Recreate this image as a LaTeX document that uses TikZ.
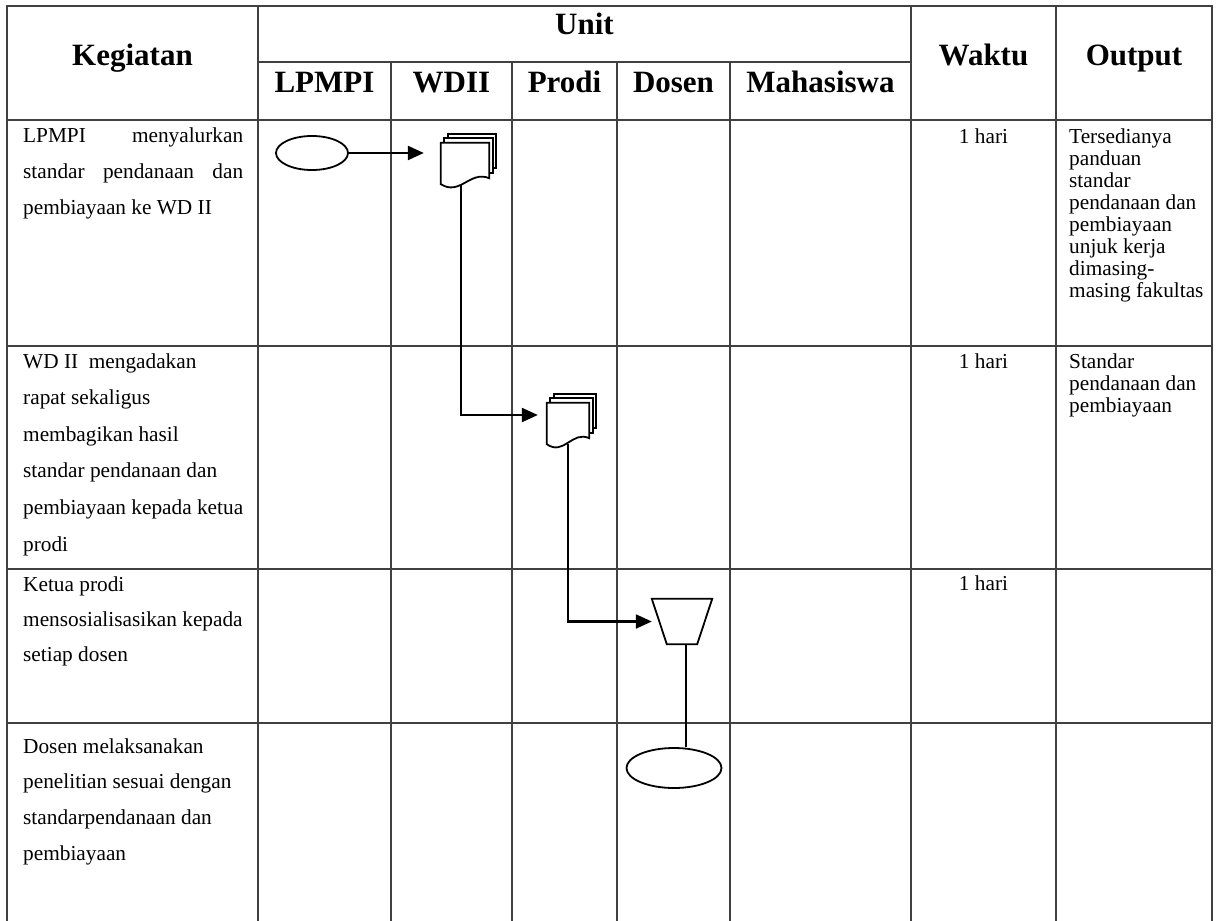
\documentclass[tikz,border=0pt]{standalone}
\usepackage{fontspec}
\setmainfont{Liberation Serif}
\usetikzlibrary{calc,arrows.meta,shapes.geometric}
\tikzset{
  tablerule/.style={draw=black!75, line width=1.3pt},
  flow/.style={draw=black, line width=2.3pt},
  arr/.style={flow, -{Triangle[length=16pt,width=14pt]}},
  hd/.style={font=\fontsize{31}{36}\bfseries\selectfont, inner sep=0pt, anchor=base},
  tx/.style={font=\fontsize{21.3}{26}\selectfont, inner sep=0pt, anchor=base west},
  txc/.style={tx, anchor=base},
  hid/.style={draw=none, inner sep=0pt, rectangle},
}
\newcommand{\multidocshape}[1]{%
  \draw[flow, line width=1.8pt, fill=white] ($(#1.north west)+(7,-9)$) rectangle ($(#1.south east)+(7,-16)$);
  \draw[flow, line width=1.8pt, fill=white] ($(#1.north west)+(3.5,-4.5)$) rectangle ($(#1.south east)+(3.5,-11)$);
  \draw[flow, line width=1.8pt, fill=white] (#1.north west) -- (#1.north east) -- ($(#1.south east)+(0,-6)$)
    .. controls ($(#1.south west)!0.6!(#1.south east)+(0,-14)$) and ($(#1.south west)!0.4!(#1.south east)+(0,12)$) .. (#1.south west) -- cycle;
}
\begin{document}
\begin{tikzpicture}[x=1pt,y=-1pt]
\useasboundingbox (0,0) rectangle (1221,921);
\fill[white] (0,0) rectangle (1221,921);

% ---- table rules
\draw[tablerule] (7,921) -- (7,6) -- (1212,6) -- (1212,921);
\draw[tablerule] (258,6) -- (258,921);
\draw[tablerule] (1056,6) -- (1056,921);
\draw[tablerule] (911,6) -- (911,921);
\draw[tablerule] (258,62) -- (911,62);
\foreach \cx in {391,512,617,730} \draw[tablerule] (\cx,62) -- (\cx,921);
\foreach \ry in {120,346,569,723} \draw[tablerule] (7,\ry) -- (1212,\ry);

% ---- header
\node[hd] (hkeg) at (132.5,65) {Kegiatan};
\node[hd] (hunit) at (584.5,34) {Unit};
\node[hd] (hlp) at (324.5,92) {LPMPI};
\node[hd] (hwd) at (451.5,92) {WDII};
\node[hd] (hpr) at (564.5,92) {Prodi};
\node[hd] (hdo) at (673.5,92) {Dosen};
\node[hd] (hma) at (820.5,92) {Mahasiswa};
\node[hd] (hwa) at (983.5,65) {Waktu};
\node[hd] (hou) at (1134,65) {Output};

% ---- Kegiatan column
\node[tx] (k1a) at (23,142) {\makebox[220pt][s]{LPMPI menyalurkan}};
\node[tx] (k1b) at (23,178) {\makebox[220pt][s]{standar pendanaan dan}};
\node[tx] (k1c) at (23,214) {pembiayaan ke WD II};
\foreach \t [count=\i from 0] in {WD II\ \ mengadakan, rapat sekaligus, membagikan hasil, standar pendanaan dan, pembiayaan kepada ketua, prodi}
  \node[tx] (k2-\i) at (23,368+36.6*\i) {\t};
\foreach \t [count=\i from 0] in {Ketua prodi, mensosialisasikan kepada, setiap dosen}
  \node[tx] (k3-\i) at (23,591+35*\i) {\t};
\foreach \t [count=\i from 0] in {Dosen melaksanakan, penelitian sesuai dengan, standarpendanaan dan, pembiayaan}
  \node[tx] (k4-\i) at (23,753+35.7*\i) {\t};

% ---- Waktu column
\node[txc] (w1) at (983.5,143) {1 hari};
\node[txc] (w2) at (983.5,368) {1 hari};
\node[txc] (w3) at (983.5,590) {1 hari};

% ---- Output column
\foreach \t [count=\i from 0] in {Tersedianya, panduan, standar, pendanaan dan, pembiayaan, unjuk kerja, dimasing-, masing fakultas}
  \node[tx] (o1-\i) at (1069,143+22.1*\i) {\t};
\foreach \t [count=\i from 0] in {Standar, pendanaan dan, pembiayaan}
  \node[tx] (o2-\i) at (1069,368+22.1*\i) {\t};

% ---- flowchart nodes
\node[ellipse, flow, line width=1.8pt, fill=white, minimum width=72pt, minimum height=34pt, inner sep=0pt] (e1) at (312,153) {};
\node[hid, minimum width=48pt, minimum height=41pt] (d1) at (465,163.5) {};
\node[hid, minimum width=42pt, minimum height=41pt] (d2) at (568,423.5) {};
\node[hid, minimum width=60pt, minimum height=45pt] (t) at (682,621.5) {};
\node[ellipse, flow, line width=1.8pt, fill=white, minimum width=95pt, minimum height=40pt, inner sep=0pt] (e2) at (674,768) {};

% ---- connectors
\draw[arr, shorten >=17pt] (e1.east) -- (e1.east -| d1.west);
\coordinate (d1b) at ($(d1.south)+(-4,0)$);
\draw[arr, shorten >=9pt] (d1b) |- ($(d2.west)+(0,-8.5)$);
\draw[arr] (d2.south) |- (t.west);
\coordinate (tb) at ($(t.south)+(4,0)$);
\draw[flow] (tb) -- (tb |- e2.north);

% ---- shapes on top
\multidocshape{d1}
\multidocshape{d2}
\draw[flow, line width=1.8pt, fill=white] (t.north west) -- (t.north east) -- ($(t.south east)+(-15,0)$) -- ($(t.south west)+(15,0)$) -- cycle;
\end{tikzpicture}
\end{document}
